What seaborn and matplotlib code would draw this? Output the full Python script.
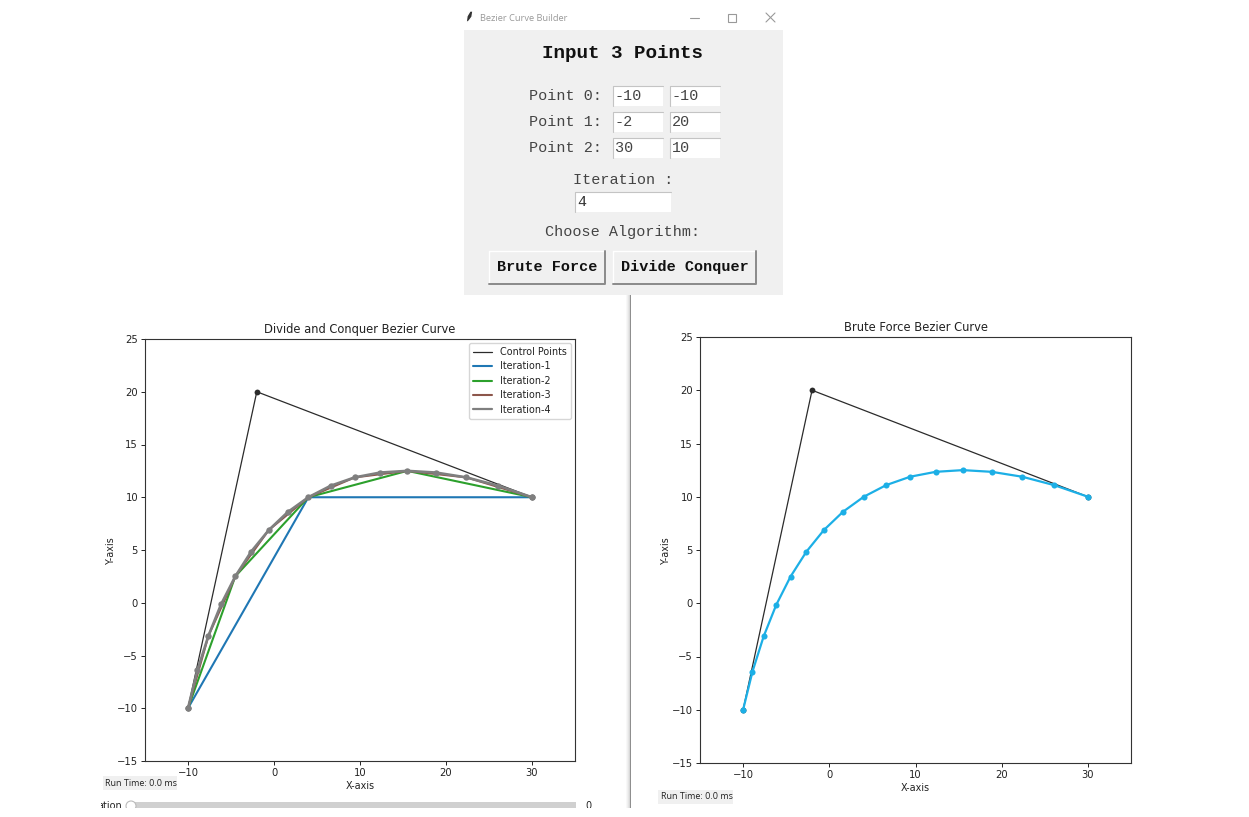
import matplotlib
matplotlib.use("Agg")
import matplotlib.pyplot as plt
from matplotlib.lines import Line2D
from matplotlib.patches import Rectangle, Circle, Polygon
import pandas as pd
import seaborn as sns

# ---- data ----
ctrl_x = [-10, -2, 30]
ctrl_y = [-10, 20, 10]
iter1_x = [-10, 4, 30]
iter1_y = [-10, 10, 10]
iter2_x = [-10, -4.5, 4, 15.5, 30]
iter2_y = [-10, 2.5, 10, 12.5, 10]
iter3_x = [-10, -7.62, -4.5, -0.62, 4, 9.38, 15.5, 22.38, 30]
iter3_y = [-10, -3.12, 2.5, 6.88, 10, 11.88, 12.5, 11.88, 10]
iter4_x = [-10, -8.91, -7.62, -6.16, -4.5, -2.66, -0.62, 1.59, 4, 6.59, 9.38, 12.34, 15.5, 18.84, 22.38, 26.09, 30]
iter4_y = [-10, -6.41, -3.12, -0.16, 2.5, 4.84, 6.88, 8.59, 10, 11.09, 11.88, 12.34, 12.5, 12.34, 11.88, 11.09, 10]
x_ticks = [-10, 0, 10, 20, 30]
y_ticks = [-15, -10, -5, 0, 5, 10, 15, 20, 25]

W, H = 1249, 817
sns.set_theme(style="ticks")
plt.rcParams.update({"font.family": ["DejaVu Sans"], "font.size": 7,
                     "axes.edgecolor": "#333333", "axes.linewidth": 0.8,
                     "xtick.color": "#222222", "ytick.color": "#222222",
                     "text.color": "#222222", "axes.labelcolor": "#222222"})
fig = plt.figure(figsize=(W / 100, H / 100), dpi=100, facecolor="white")


def make_ax(l, t, r, b):
    return fig.add_axes([l / W, 1 - b / H, (r - l) / W, (b - t) / H])


def draw(ax, x, y, color, lw, ms):
    df = pd.DataFrame({"x": x, "y": y})
    sns.lineplot(data=df, x="x", y="y", ax=ax, sort=False, estimator=None,
                 color=color, linewidth=lw, marker="o", markersize=ms,
                 markeredgewidth=0, legend=False)


def finish(ax, title):
    ax.set_xlim(-15, 35)
    ax.set_ylim(-15, 25)
    ax.set_xticks(x_ticks)
    ax.set_yticks(y_ticks)
    ax.tick_params(labelsize=7.2, length=3, width=0.7, pad=2)
    ax.set_xlabel("X-axis", fontsize=6.9, labelpad=2.5)
    ax.set_ylabel("Y-axis", fontsize=6.9, labelpad=1)
    ax.set_title(title, fontsize=8.3, pad=4.5)
    for s in ax.spines.values():
        s.set_visible(True)


series = [
    (ctrl_x, ctrl_y, "#2b2b2b", 0.9, 4.2, "Control Points"),
    (iter1_x, iter1_y, "tab:blue", 1.5, 3, "Iteration-1"),
    (iter2_x, iter2_y, "tab:green", 1.5, 3, "Iteration-2"),
    (iter3_x, iter3_y, "tab:brown", 1.5, 3, "Iteration-3"),
    (iter4_x, iter4_y, "tab:gray", 1.9, 4.6, "Iteration-4"),
]
ax1 = make_ax(145, 339, 575, 761)
handles = []
for x, y, c, lw, ms, lab in series:
    draw(ax1, x, y, c, lw, ms)
    handles.append(Line2D([], [], color=c, lw=min(lw, 1.6), label=lab))
finish(ax1, "Divide and Conquer Bezier Curve")
ax1.legend(handles=handles, loc="upper right", fontsize=6.9, frameon=True, framealpha=0.8,
           borderaxespad=0.42, labelspacing=0.46, edgecolor="#cccccc", fancybox=True,
           handlelength=2.0, handletextpad=0.8, borderpad=0.42)

ax2 = make_ax(700, 337, 1131, 763)
draw(ax2, ctrl_x, ctrl_y, "#2b2b2b", 0.9, 4.2)
draw(ax2, iter4_x, iter4_y, "#1cafe6", 1.6, 4.4)
finish(ax2, "Brute Force Bezier Curve")

# ---- window chrome overlay, in pixel coordinates ----
ui = fig.add_axes([0, 0, 1, 1], zorder=10)
ui.set_xlim(0, W)
ui.set_ylim(H, 0)
ui.axis("off")
ui.patch.set_alpha(0)


def rect(x0, y0, x1, y1, c, z=1):
    ui.add_patch(Rectangle((x0, y0), x1 - x0, y1 - y0, facecolor=c, edgecolor="none", zorder=z))


MONO = "Liberation Mono"
# separator with soft shadow
for i, c in enumerate(["#f8f8f8", "#f0f0f0", "#e6e6e6", "#d8d8d8"]):
    rect(626 + i, 295, 627 + i, 808, c)
rect(630, 295, 631, 808, "#8f8f8f")

# slider
rect(127, 802, 576, 812, "#d0d0d0")
ui.add_patch(Circle((131, 806), 5, facecolor="white", edgecolor="#bbbbbb", lw=0.8, zorder=2))
ui.text(122, 806, "ation", ha="right", va="center", fontsize=7, color="#222222", zorder=2)
ui.text(588, 806, "0", ha="center", va="center", fontsize=7, color="#222222", zorder=2)
rect(0, 808, W, H, "white", z=3)
rect(0, 797, 101, 815, "white", z=3)

# run time labels
rect(103, 776, 177, 790, "#f0f0f0", z=2)
ui.text(105.5, 783, "Run Time: 0.0 ms", ha="left", va="center", fontsize=6.5, family="Open Sans", zorder=4)
rect(658, 790, 733, 804, "#f0f0f0", z=2)
ui.text(661, 796.5, "Run Time: 0.0 ms", ha="left", va="center", fontsize=6.5, family="Open Sans", zorder=4)

# dialog
rect(464, 30, 783, 295, "#f0f0f0", z=4)
ui.add_patch(Polygon([(466, 23), (467, 16), (470, 11), (473, 11), (472, 17), (469, 21)],
                     facecolor="#333333", zorder=5))
ui.text(480, 18, "Bezier Curve Builder", ha="left", va="center", fontsize=6.7, color="#999999",
        family="Open Sans", zorder=5)
ui.plot([690, 699], [17.5, 17.5], color="#999999", lw=0.8, zorder=5)
ui.add_patch(Rectangle((728, 13.5), 8, 8, facecolor="none", edgecolor="#999999", lw=0.8, zorder=5))
ui.plot([766, 775], [13, 22], color="#999999", lw=0.8, zorder=5)
ui.plot([766, 775], [22, 13], color="#999999", lw=0.8, zorder=5)

ui.text(623, 53, "Input 3 Points", ha="center", va="center", family=MONO, weight="bold", fontsize=13.9,
        color="#111111", zorder=5)
rows = [("Point 0:", "-10", "-10", 96), ("Point 1:", "-2", "20", 122), ("Point 2:", "30", "10", 148)]
for lab, a, b, y in rows:
    ui.text(566, y, lab, ha="center", va="center", family=MONO, fontsize=10.9, color="#444444", zorder=5)
    for x0, x1, t in [(613, 663, a), (670, 720, b)]:
        rect(x0, y - 10, x1, y + 10, "white", z=5)
        ui.plot([x0, x0, x1], [y + 10, y - 10, y - 10], color="#c4c4c4", lw=0.8, zorder=6)
        ui.text(x0 + 2, y, t, ha="left", va="center", family=MONO, fontsize=10.9, color="#444444", zorder=6)
ui.text(623, 180, "Iteration :", ha="center", va="center", family=MONO, fontsize=10.9, color="#444444", zorder=5)
rect(575, 192, 671, 212, "white", z=5)
ui.plot([575, 575, 671], [212, 192, 192], color="#c4c4c4", lw=0.8, zorder=6)
ui.text(577, 202, "4", ha="left", va="center", family=MONO, fontsize=10.9, color="#333333", zorder=6)
ui.text(622.5, 232, "Choose Algorithm:", ha="center", va="center", family=MONO, fontsize=10.9, color="#444444", zorder=5)
for x0, x1, t in [(489, 605, "Brute Force"), (613, 756, "Divide Conquer")]:
    rect(x0, 251, x1, 284, "#f0f0f0", z=5)
    ui.plot([x0, x0, x1], [284, 251, 251], color="#ffffff", lw=1, zorder=6)
    ui.plot([x0, x1, x1], [284, 284, 251], color="#8a8a8a", lw=1.4, zorder=6)
    ui.text((x0 + x1) / 2, 267, t, ha="center", va="center", family=MONO, weight="bold", fontsize=10.9,
            color="#111111", zorder=6)

fig.savefig("out.png", dpi=100)
